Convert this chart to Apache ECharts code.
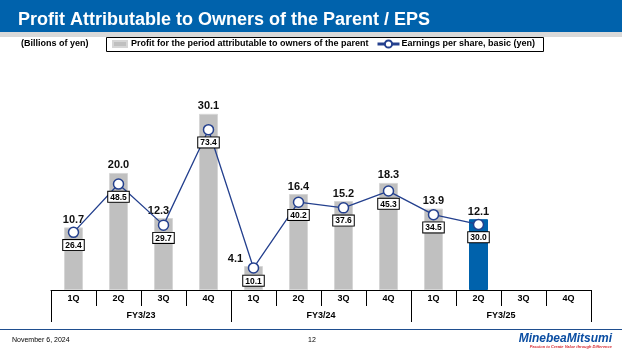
<!DOCTYPE html>
<html>
<head>
<meta charset="utf-8">
<script src="https://cdn.jsdelivr.net/npm/echarts@6/dist/echarts.min.js"></script>
<style>
  html, body { margin: 0; padding: 0; background: #fff; }
  #chart { width: 622px; height: 350px; }
</style>
</head>
<body>
<div id="chart"></div>
<script>
const quarters = ['1Q', '2Q', '3Q', '4Q', '1Q', '2Q', '3Q', '4Q', '1Q', '2Q', '3Q', '4Q'];
const fiscalYears = ['FY3/23', 'FY3/24', 'FY3/25'];
// billions of yen
const profit = [10.7, 20.0, 12.3, 30.1, 4.1, 16.4, 15.2, 18.3, 13.9, 12.1, null, null];
// yen
const eps = [26.4, 48.5, 29.7, 73.4, 10.1, 40.2, 37.6, 45.3, 34.5, 30.0, null, null];
const latestIndex = 9;

const FONT = '"Liberation Sans", Arial, sans-serif';
const BLUE = '#0062AC';
const LINE = '#24408E';

// a couple of bar labels sit left of the bar so the line doesn't cover them
const labelShift = { 2: [-5, 0], 4: [-18, 0] };

let myChart = echarts.init(document.getElementById('chart'));

const barData = profit.map((v, i) => {
  let item = { value: v };
  if (i === latestIndex) {
    item.itemStyle = { color: BLUE, borderColor: BLUE };
  }
  if (labelShift[i]) {
    item.label = { offset: labelShift[i] };
  }
  return item;
});

myChart.setOption({
  animation: false,
  textStyle: { fontFamily: FONT },
  title: {
    text: 'Profit Attributable to Owners of the Parent / EPS',
    left: 13,
    top: 6,
    textStyle: { color: '#fff', fontSize: 18, fontWeight: 'bold', fontFamily: FONT }
  },
  graphic: [
    { type: 'rect', z: -10, shape: { x: 0, y: 0, width: 622, height: 32 }, style: { fill: BLUE } },
    { type: 'rect', z: -10, shape: { x: 0, y: 32, width: 622, height: 5 }, style: { fill: '#D9D9D9' } },
    { type: 'text', left: 21, top: 39, style: { text: '(Billions of yen)', fill: '#000', font: 'bold 9px ' + FONT } },
    { type: 'rect', shape: { x: 106.5, y: 37.5, width: 437, height: 14 }, style: { fill: 'none', stroke: '#000', lineWidth: 1 } },
    { type: 'line', shape: { x1: 0, y1: 329.5, x2: 622, y2: 329.5 }, style: { stroke: '#1F4E8F', lineWidth: 1 } },
    { type: 'text', left: 12, top: 337, style: { text: 'November 6, 2024', fill: '#000', font: '7px ' + FONT } },
    { type: 'text', left: 308, top: 337, style: { text: '12', fill: '#000', font: '7px ' + FONT } },
    { type: 'text', right: 10, top: 333, style: { text: 'MinebeaMitsumi', fill: '#0A4DA2', font: 'italic bold 12px ' + FONT } },
    { type: 'text', right: 10, top: 345, style: { text: 'Passion to Create Value through Difference', fill: '#D7282F', font: 'italic bold 4px ' + FONT } }
  ],
  legend: [
    {
      left: 112,
      top: 39,
      padding: 0,
      itemWidth: 14,
      itemHeight: 6,
      itemGap: 4,
      data: [{ name: 'Profit for the period attributable to owners of the parent', icon: 'rect' }],
      textStyle: { fontSize: 9, fontWeight: 'bold', color: '#000', lineHeight: 10, padding: [0, 0, 0, -1] }
    },
    {
      left: 376,
      top: 39,
      padding: 0,
      itemWidth: 22,
      itemHeight: 9,
      data: [{ name: 'Earnings per share, basic (yen)', lineStyle: { width: 3 } }],
      textStyle: { fontSize: 9, fontWeight: 'bold', color: '#000', lineHeight: 10, padding: [0, 0, 0, -3] }
    }
  ],
  grid: { left: 51, right: 31, top: 60, bottom: 60 },
  xAxis: [
    {
      type: 'category',
      data: quarters,
      position: 'bottom',
      axisLine: { show: true, lineStyle: { color: '#000', width: 1 } },
      axisTick: { show: true, interval: 0, alignWithLabel: false, length: 16, lineStyle: { color: '#000', width: 1 } },
      axisLabel: { interval: 0, margin: 4, color: '#000', fontSize: 9, fontWeight: 'bold' }
    },
    {
      type: 'category',
      data: fiscalYears,
      position: 'bottom',
      axisLine: { show: false },
      axisTick: { show: true, interval: 0, alignWithLabel: false, length: 32, lineStyle: { color: '#000', width: 1 } },
      axisLabel: { interval: 0, margin: 21, color: '#000', fontSize: 9, fontWeight: 'bold' }
    }
  ],
  yAxis: [
    { type: 'value', min: 0, max: 39.3, show: false, splitLine: { show: false } },
    { type: 'value', min: 0, max: 105.3, show: false, splitLine: { show: false } }
  ],
  series: [
    {
      name: 'Profit for the period attributable to owners of the parent',
      type: 'bar',
      xAxisIndex: 0,
      yAxisIndex: 0,
      barWidth: 19,
      data: barData,
      itemStyle: { color: '#C0C0C0', borderColor: '#D6D6D6', borderWidth: 1 },
      label: {
        show: true,
        position: 'top',
        distance: 2,
        color: '#111',
        fontSize: 11,
        fontWeight: 'bold',
        formatter: p => p.value == null ? '' : p.value.toFixed(1)
      }
    },
    {
      name: 'Earnings per share, basic (yen)',
      type: 'line',
      xAxisIndex: 0,
      yAxisIndex: 1,
      data: eps,
      symbol: 'circle',
      symbolSize: 10,
      z: 5,
      lineStyle: { color: LINE, width: 1.3 },
      itemStyle: { color: '#fff', borderColor: LINE, borderWidth: 1.5 },
      label: {
        show: true,
        position: 'bottom',
        distance: 2,
        color: '#000',
        fontSize: 8.5,
        fontWeight: 'bold',
        backgroundColor: '#fff',
        borderColor: '#000',
        borderWidth: 1,
        padding: [1, 2, 0, 2],
        lineHeight: 9,
        formatter: p => p.value == null ? '' : p.value.toFixed(1)
      }
    }
  ]
});
</script>
</body>
</html>
